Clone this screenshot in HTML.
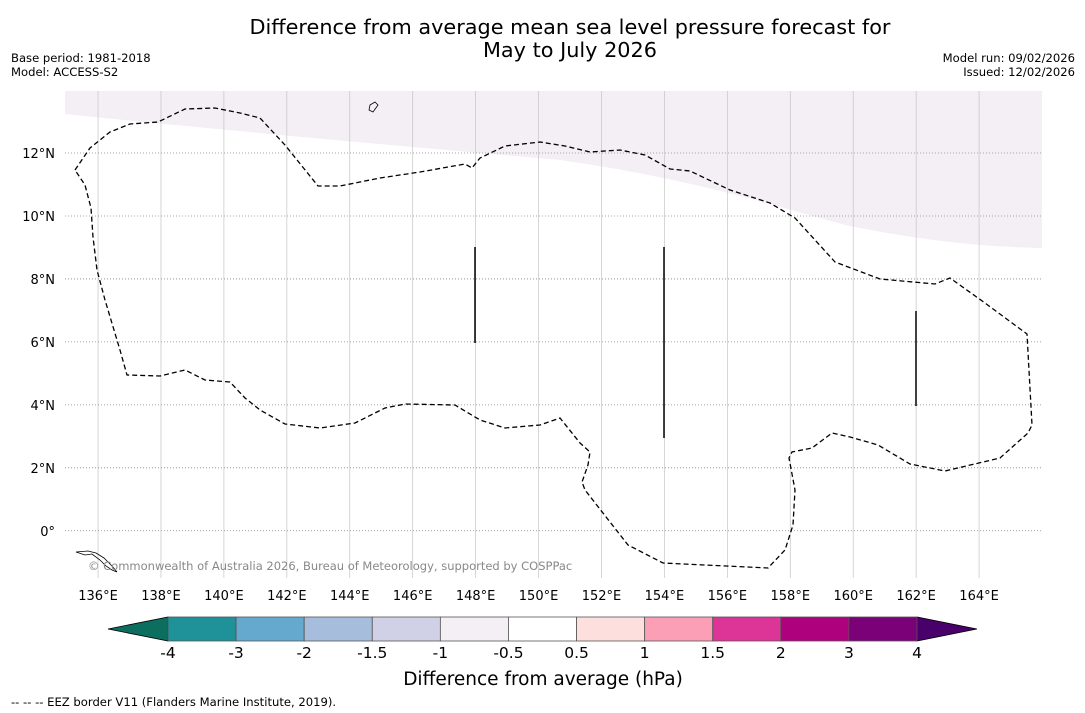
<!DOCTYPE html>
<html><head><meta charset="utf-8"><style>
body{margin:0;background:#fff;width:1085px;height:713px;overflow:hidden;font-family:"DejaVu Sans","Liberation Sans",sans-serif;}
svg{display:block}
</style></head><body>
<svg width="1085" height="713" font-family="DejaVu Sans, Liberation Sans, sans-serif">
<text x="570" y="34" text-anchor="middle" font-size="20.8">Difference from average mean sea level pressure forecast for</text>
<text x="570" y="57" text-anchor="middle" font-size="20.8">May to July 2026</text>
<text x="11" y="62" font-size="11.6">Base period: 1981-2018</text>
<text x="11" y="76" font-size="11.6">Model: ACCESS-S2</text>
<text x="1075" y="62" font-size="11.6" text-anchor="end">Model run: 09/02/2026</text>
<text x="1075" y="76" font-size="11.6" text-anchor="end">Issued: 12/02/2026</text>
<g id="map"></g>
<g id="cbar"></g>
<text x="543" y="685" text-anchor="middle" font-size="18.5">Difference from average (hPa)</text>
<text x="11" y="706" font-size="11.6">--  --  -- EEZ border V11 (Flanders Marine Institute, 2019).</text>
</svg>
<script>
const lonTicks=[136,138,140,142,144,146,148,150,152,154,156,158,160,162,164];
const latTicks=[0,2,4,6,8,10,12];
const latLabels=["0°","2°N","4°N","6°N","8°N","10°N","12°N"];
const cbarBounds=["-4","-3","-2","-1.5","-1","-0.5","0.5","1","1.5","2","3","4"];
const cbarColors=["#1f9198","#66a9cf","#a6bddb","#d0d1e6","#f4eef5","#ffffff","#fde0dd","#fa9fb5","#dd3497","#ae017e","#7a0177"];
const NS="http://www.w3.org/2000/svg";
const X0=65,X1=1042,Y0=91,Y1=578,LON0=134.95,LON1=166.0,LAT0=-1.5,LAT1=13.97;
const xs=l=>X0+(l-LON0)/(LON1-LON0)*(X1-X0);
const ys=l=>Y1-(l-LAT0)/(LAT1-LAT0)*(Y1-Y0);
function mk(tag,at,parent){const e=document.createElementNS(NS,tag);for(const k in at)e.setAttribute(k,at[k]);parent.appendChild(e);return e;}
const map=document.getElementById('map');
let sh=mk('path',{d:"M65,91 L65,114 C200,128 400,146 560,160 C700,180 780,208 850,226 C930,242 990,247 1042,248 L1042,91 Z",fill:"#f4eef5"},map);


lonTicks.forEach(l=>{const x=xs(l);
 let g=mk('line',{x1:x,x2:x,y1:Y0,y2:Y1,stroke:"#c4c4c4","stroke-width":0.7},map);
 
 
 let t=mk('text',{x:x,y:600,"text-anchor":"middle","font-size":13},map);t.textContent=l+"°E";
 
 
});
latTicks.forEach((l,i)=>{const y=ys(l);
 let g=mk('line',{x1:X0,x2:X1,y1:y,y2:y,stroke:"#888","stroke-width":0.8,"stroke-dasharray":"1,2"},map);
 
 
 let t=mk('text',{x:55,y:y+5,"text-anchor":"end","font-size":13},map);t.textContent=latLabels[i];
 
 
});
const eez="75,170 90,148 110,132 130,124 158,122 185,109 215,108 240,113 260,118 285,145 318,186 340,186 380,178 420,172 465,164 472,168 480,158 505,146 540,142 565,146 590,152 620,150 645,155 670,169 690,171 730,190 770,203 795,218 815,240 835,262 880,279 935,284 950,278 985,303 1027,334 1032,425 1028,433 1000,458 945,471 910,464 878,445 850,437 832,433 812,448 792,452 789,458 795,490 793,525 785,550 768,568 663,563 628,545 610,522 585,490 582,482 588,465 590,452 580,443 560,418 540,425 505,428 480,420 455,405 405,404 385,408 355,423 320,428 285,424 260,410 245,398 230,382 205,380 185,370 160,376 127,375 120,350 105,300 97,270 93,237 91,208 85,185 75,170";
let ep=mk('polyline',{points:eez,fill:"none",stroke:"#000","stroke-width":1.3,"stroke-dasharray":"5,3"},map);


[[475,247,343],[664,247,438],[916,311,406]].forEach(v=>{
 let l=mk('line',{x1:v[0],x2:v[0],y1:v[1],y2:v[2],stroke:"#000","stroke-width":1.5},map);
 
 
});
let isl=mk('path',{d:"M76,552 L85,555 L92,554 L100,560 L106,566 L112,570 L117,572 L112,566 L104,558 L96,553 L88,551 Z M370,105 L375,102 L378,105 L373,112 L369,110 Z",fill:"none",stroke:"#000","stroke-width":0.8},map);


let cp=mk('text',{x:88,y:570,"font-size":11.5,fill:"#888"},map);cp.textContent="© Commonwealth of Australia 2026, Bureau of Meteorology, supported by COSPPac";


const cb=document.getElementById('cbar');
const CX0=168,CX1=917,CY0=617,CY1=641,W=(CX1-CX0)/cbarColors.length;
let la=mk('polygon',{points:`108,629 ${CX0},${CY0} ${CX0},${CY1}`,fill:"#0b6e5e",stroke:"#000","stroke-width":0.8},cb);


let ra=mk('polygon',{points:`977,629 ${CX1},${CY0} ${CX1},${CY1}`,fill:"#49006a",stroke:"#000","stroke-width":0.8},cb);


cbarColors.forEach((c,i)=>{
 let r=mk('rect',{x:CX0+i*W,y:CY0,width:W,height:CY1-CY0,fill:c,stroke:"#555","stroke-width":0.8},cb);
 
 
});
cbarBounds.forEach((b,i)=>{
 let t=mk('text',{x:CX0+i*W,y:658,"text-anchor":"middle","font-size":15.5},cb);t.textContent=b;
 
 
});
</script>
</body></html>
